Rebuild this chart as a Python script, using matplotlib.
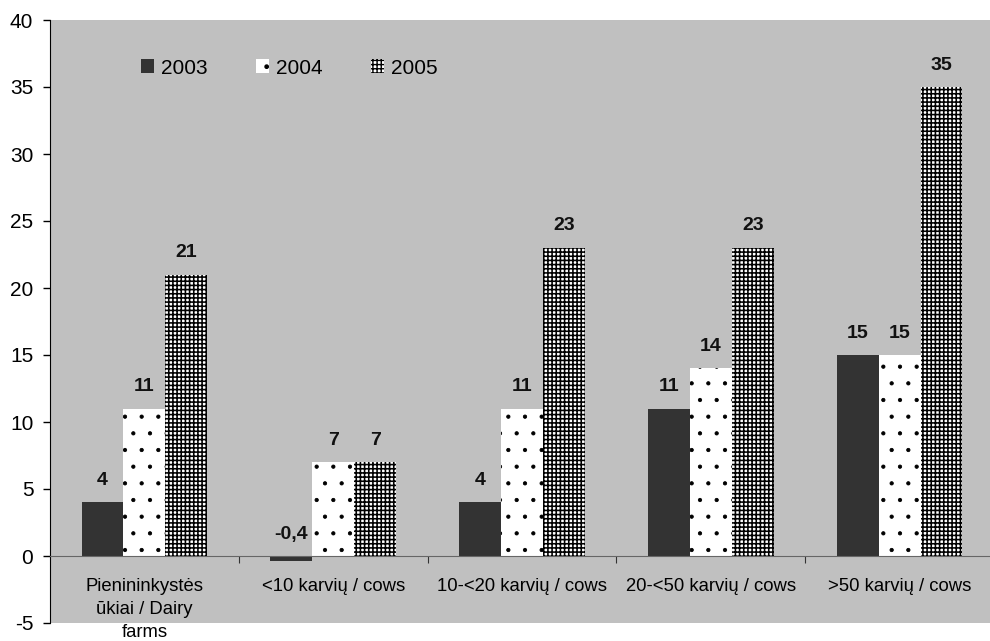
import matplotlib
matplotlib.use("Agg")
import matplotlib.pyplot as plt
import numpy as np

categories = ["Pienininkystės\nūkiai / Dairy\nfarms", "<10 karvių / cows",
              "10-<20 karvių / cows", "20-<50 karvių / cows", ">50 karvių / cows"]
years = ["2003", "2004", "2005"]
v2003 = [4, -0.4, 4, 11, 15]
v2004 = [11, 7, 11, 14, 15]
v2005 = [21, 7, 23, 23, 35]
labels2003 = ["4", "-0,4", "4", "11", "15"]
labels2004 = ["11", "7", "11", "14", "15"]
labels2005 = ["21", "7", "23", "23", "35"]

plt.rcParams["font.family"] = ["Liberation Sans", "DejaVu Sans"]
plt.rcParams["axes.unicode_minus"] = False

fig = plt.figure(figsize=(9.9, 6.41), dpi=100)
ax = fig.add_axes([50 / 990, 18 / 641, 944 / 990, 603 / 641])
ax.set_facecolor("#c0c0c0")

x = np.arange(len(categories))
w = 0.222
styles = [
    dict(color="#333333", hatch=None, hlw=1.0),
    dict(color="white", hatch=".", hlw=0.6),
    dict(color="white", hatch="++++", hlw=1.15),
]
series = [v2003, v2004, v2005]
texts = [labels2003, labels2004, labels2005]
handles = []
for i, (vals, lab, st) in enumerate(zip(series, texts, styles)):
    pos = x + (i - 1) * w
    with plt.rc_context({"hatch.linewidth": st["hlw"]}):
        b = ax.bar(pos, vals, w, facecolor=st["color"],
                   edgecolor="black" if st["hatch"] else st["color"],
                   hatch=st["hatch"], linewidth=0, label=years[i], zorder=2)
    for p in b.patches:
        if hasattr(p, "set_hatch_linewidth"):
            p.set_hatch_linewidth(st["hlw"])
    handles.append(b)
    for p, v, t in zip(pos, vals, lab):
        ax.text(p, max(v, 0) + 1.3, t, ha="center", va="baseline", fontsize=14,
                fontweight="bold", color="#111111")

ax.set_xlim(-0.5, len(categories) - 0.5)
ax.set_ylim(-5, 40)
ax.set_yticks(range(-5, 41, 5))
ax.tick_params(axis="y", labelsize=15, length=5, width=1, direction="out", pad=7)

ax.spines["top"].set_visible(False)
ax.spines["right"].set_visible(False)
ax.spines["bottom"].set_position(("data", 0))
ax.spines["bottom"].set_color("#666666")
ax.set_xticks(x[:-1] + 0.5)
ax.set_xticklabels([])
ax.tick_params(axis="x", which="major", length=5, direction="out", color="#333333")
ax.set_xticks(x, minor=True)
ax.set_xticklabels(categories, minor=True, fontsize=13.3)
ax.tick_params(axis="x", which="minor", length=0, pad=16)
for t in ax.get_xticklabels(minor=True):
    t.set_linespacing(1.45)

leg = ax.legend(handles=handles, loc="center left", bbox_to_anchor=(0.0963, 0.92), ncol=3,
                frameon=False, fontsize=15, handlelength=0.65, handleheight=0.65,
                handletextpad=0.3, columnspacing=2.33, borderpad=0, borderaxespad=0)

fig.savefig("out.png", dpi=100)
